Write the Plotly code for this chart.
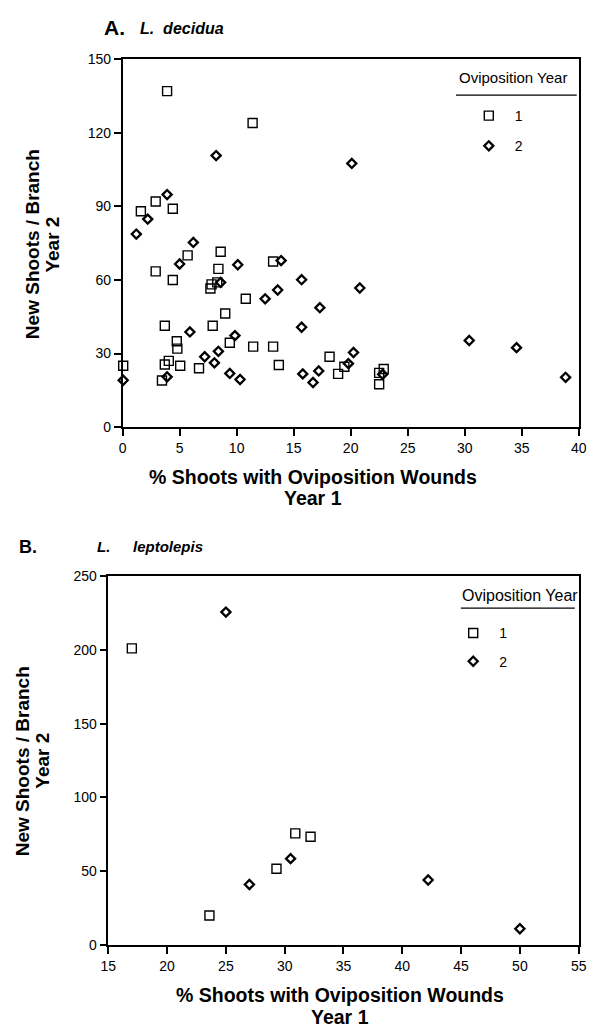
import plotly.graph_objects as go

# ---------------- Panel A: L. decidua ----------------
a_year1_x = [3.9, 11.4, 2.9, 1.6, 4.4, 5.7, 8.6, 2.9, 4.4, 8.4, 7.7, 7.8, 8.3, 13.2,
             10.8, 9.0, 3.7, 7.9, 4.75, 4.8, 9.4, 11.45, 13.2, 0.05, 3.7, 4.05, 5.05,
             6.7, 13.7, 3.45, 18.15, 19.45, 18.9, 22.5, 22.9, 22.5]
a_year1_y = [137, 124, 92, 88, 89, 70, 71.5, 63.5, 60, 64.5, 56.5, 58.2, 59, 67.5,
             52.3, 46.3, 41.3, 41.3, 35, 32, 34.4, 32.8, 32.8, 25, 25.5, 27, 25,
             24, 25.3, 19, 28.7, 24.6, 21.7, 22.1, 23.7, 17.5]

a_year2_x = [8.2, 20.1, 3.9, 2.2, 1.2, 6.2, 5.0, 10.1, 13.9, 15.7, 13.6, 12.5, 20.8,
             8.6, 17.3, 15.7, 5.9, 9.85, 8.4, 7.2, 8.05, 9.4, 10.3, 0.05, 3.9, 20.25,
             19.8, 15.8, 17.2, 16.7, 22.8, 30.4, 34.55, 38.85]
a_year2_y = [110.7, 107.5, 94.8, 84.8, 78.7, 75.3, 66.5, 66.2, 67.9, 60.1, 55.9, 52.3,
             56.7, 59, 48.7, 40.7, 38.8, 37.3, 30.9, 28.7, 26.2, 21.9, 19.4, 19.1, 20.5,
             30.4, 25.9, 21.7, 22.9, 18.2, 21.5, 35.3, 32.4, 20.3]

# ---------------- Panel B: L. leptolepis ----------------
b_year1_x = [17.0, 30.9, 32.2, 29.3, 23.6]
b_year1_y = [201, 75.6, 73.3, 51.6, 20]

b_year2_x = [25.0, 30.5, 27.0, 42.2, 50.0]
b_year2_y = [225.6, 58.5, 41, 44, 11]

legend_labels = ["1", "2"]
legend_title = "Oviposition Year"
x_title_lines = ["% Shoots with Oviposition Wounds", "Year 1"]
y_title_lines = ["New Shoots / Branch", "Year 2"]

FONT = "Liberation Sans, Arial, sans-serif"
W, H = 612, 1033

sq = dict(symbol="square-open", size=9, color="black", line=dict(width=1.4, color="black"))
di = dict(symbol="diamond-open", size=7, color="black", line=dict(width=2.3, color="black"))

fig = go.Figure()
fig.add_trace(go.Scatter(x=a_year1_x, y=a_year1_y, mode="markers", marker=sq,
                         name=legend_labels[0], xaxis="x", yaxis="y", legend="legend",
                         cliponaxis=False, legendgroup="a1"))
fig.add_trace(go.Scatter(x=a_year2_x, y=a_year2_y, mode="markers", marker=di,
                         name=legend_labels[1], xaxis="x", yaxis="y", legend="legend",
                         cliponaxis=False, legendgroup="a2"))
fig.add_trace(go.Scatter(x=b_year1_x, y=b_year1_y, mode="markers", marker=sq,
                         name=legend_labels[0], xaxis="x2", yaxis="y2", legend="legend2",
                         cliponaxis=False, legendgroup="b1"))
fig.add_trace(go.Scatter(x=b_year2_x, y=b_year2_y, mode="markers", marker=di,
                         name=legend_labels[1], xaxis="x2", yaxis="y2", legend="legend2",
                         cliponaxis=False, legendgroup="b2"))

def px_x(p):
    return p / W

def px_y(p):
    return 1 - p / H

axis_common = dict(showgrid=False, zeroline=False, showline=True, linecolor="black",
                   linewidth=1.5, mirror=True, ticks="outside", ticklen=7, tickwidth=1.5,
                   tickcolor="black", tickfont=dict(family=FONT, size=14, color="black"))

fig.update_layout(
    width=W, height=H, margin=dict(l=0, r=0, t=0, b=0),
    paper_bgcolor="white", plot_bgcolor="white",
    font=dict(family=FONT, color="black"),
    xaxis=dict(domain=[px_x(117.7), px_x(586)], range=[0, 40], dtick=5, tick0=0,
               anchor="y", **axis_common),
    yaxis=dict(domain=[px_y(425.7), px_y(52)], range=[0, 150], dtick=30, tick0=0,
               anchor="x", **axis_common),
    xaxis2=dict(domain=[px_x(103), px_x(586)], range=[15, 55], dtick=5, tick0=15,
                anchor="y2", **axis_common),
    yaxis2=dict(domain=[px_y(951.7), px_y(577)], range=[0, 250], dtick=50, tick0=0,
                anchor="x2", **axis_common),
    legend=dict(x=px_x(467), y=px_y(93.5), xanchor="left", yanchor="top",
                font=dict(family=FONT, size=14), bgcolor="rgba(0,0,0,0)",
                tracegroupgap=9, itemwidth=42),
    legend2=dict(x=px_x(451), y=px_y(619), xanchor="left", yanchor="top",
                 font=dict(family=FONT, size=14), bgcolor="rgba(0,0,0,0)",
                 tracegroupgap=7, itemwidth=42),
    showlegend=True,
)

# Legend title underlines
fig.add_shape(type="line", xref="paper", yref="paper", x0=px_x(460), x1=px_x(584),
              y0=px_y(88.5), y1=px_y(88.5), line=dict(color="black", width=1.3))
fig.add_shape(type="line", xref="paper", yref="paper", x0=px_x(465), x1=px_x(582),
              y0=px_y(609.5), y1=px_y(609.5), line=dict(color="black", width=1.3))

anns = []
# Legend titles
anns.append(dict(text=legend_title, x=px_x(461), y=px_y(71), xanchor="left",
                 yanchor="middle", font=dict(family=FONT, size=15)))
anns.append(dict(text=legend_title, x=px_x(464), y=px_y(597), xanchor="left",
                 yanchor="middle", font=dict(family=FONT, size=16)))
# Panel titles
anns.append(dict(text="<b>A.</b>", x=px_x(97), y=px_y(20), xanchor="left", yanchor="middle",
                 font=dict(family=FONT, size=21)))
anns.append(dict(text="<b><i>L.  decidua</i></b>", x=px_x(133), y=px_y(21), xanchor="left",
                 yanchor="middle", font=dict(family=FONT, size=16)))
anns.append(dict(text="<b>B.</b>", x=px_x(9), y=px_y(547), xanchor="left", yanchor="middle",
                 font=dict(family=FONT, size=18)))
anns.append(dict(text="<b><i>L.</i></b>", x=px_x(107), y=px_y(547), xanchor="right",
                 yanchor="middle", font=dict(family=FONT, size=15)))
anns.append(dict(text="<b><i>leptolepis</i></b>", x=px_x(126), y=px_y(547), xanchor="left",
                 yanchor="middle", font=dict(family=FONT, size=15)))

# Axis titles (each line placed separately for tight line spacing)
def x_title(cx, y1, y2):
    for txt, yy in zip(x_title_lines, (y1, y2)):
        anns.append(dict(text="<b>" + txt + "</b>", x=px_x(cx), y=px_y(yy),
                         xanchor="center", yanchor="middle",
                         font=dict(family=FONT, size=19.5)))

def y_title(x1, x2, cy):
    for txt, xx in zip(y_title_lines, (x1, x2)):
        anns.append(dict(text="<b>" + txt + "</b>", x=px_x(xx), y=px_y(cy),
                         xanchor="center", yanchor="middle", textangle=-90,
                         font=dict(family=FONT, size=19)))

x_title(313, 476, 498)
y_title(24.5, 45.5, 240)
x_title(341, 1003, 1025)
y_title(14.5, 35.5, 765)

for a in anns:
    a.update(xref="paper", yref="paper", showarrow=False)
fig.update_layout(annotations=anns)

fig.write_html("out.html")
